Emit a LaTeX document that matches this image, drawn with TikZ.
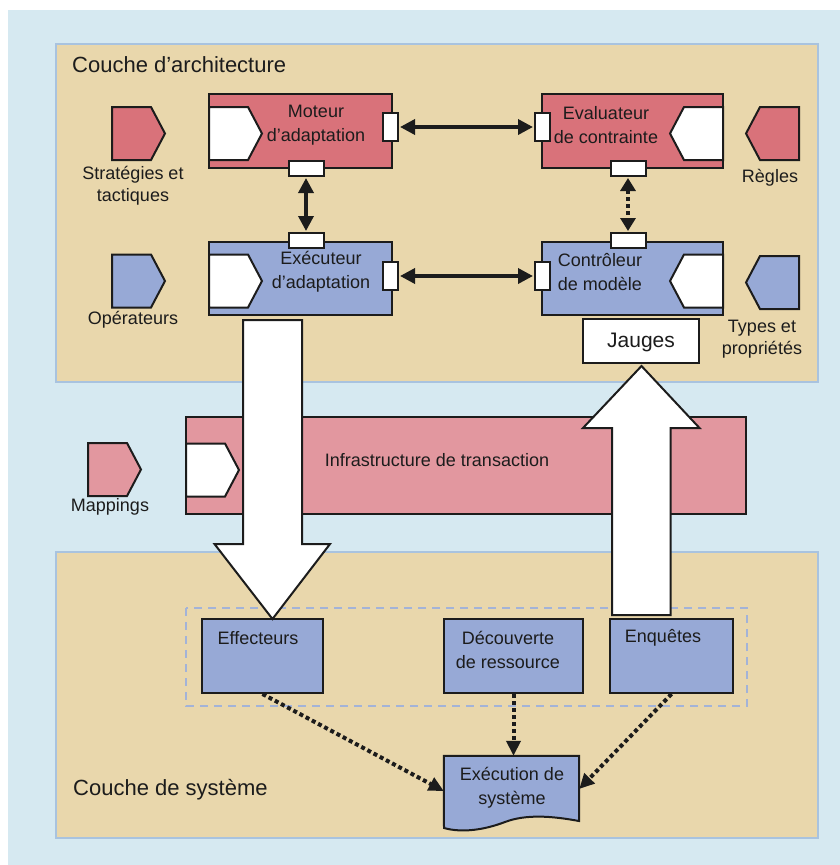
\documentclass[tikz,border=0pt]{standalone}
\usepackage{fontspec}
\setmainfont{Liberation Sans}
\usetikzlibrary{arrows.meta,calc}

\definecolor{bgblue}{HTML}{D6E9F1}
\definecolor{layertan}{HTML}{E9D7AC}
\definecolor{layerline}{HTML}{A9C3DF}
\definecolor{redbox}{HTML}{D9727A}
\definecolor{pinkbox}{HTML}{E2979F}
\definecolor{bluebox}{HTML}{97A9D6}
\definecolor{dashcol}{HTML}{A3B3D8}
\definecolor{ink}{HTML}{1C1C1C}

\tikzset{
  compo/.pic={\path[pic actions] (0,-26.5) -- (39,-26.5) -- (53,0) -- (39,26.5) -- (0,26.5) -- cycle;},
  outline/.style={draw=ink, line width=2pt},
  layer/.style={fill=layertan, draw=layerline, line width=1.6pt},
  comp/.style={outline, rectangle, inner sep=0pt},
  port/.style={outline, fill=white, rectangle, inner sep=0pt},
  hport/.style={port, minimum width=15pt, minimum height=28pt},
  vport/.style={port, minimum width=35pt, minimum height=15pt},
  lbl/.style={text=ink, inner sep=0pt, align=center, font=\fontsize{18}{24}\selectfont},
  title/.style={text=ink, inner sep=0pt, anchor=west, font=\fontsize{22}{26}\selectfont},
  solidlink/.style={draw=ink, line width=3.5pt, {Triangle[length=15pt,width=15pt]}-{Triangle[length=15pt,width=15pt]}, shorten <=1pt, shorten >=1pt},
  dotlink/.style={draw=ink, line width=4pt, dash pattern=on 4pt off 3pt, -{Triangle[length=15pt,width=14pt]}},
  dotbilink/.style={draw=ink, line width=3.5pt, dash pattern=on 4pt off 3pt, {Triangle[length=13pt,width=15pt]}-{Triangle[length=13pt,width=15pt]}, shorten <=1pt, shorten >=1pt},
  bigarrow/.style={fill=white, draw=ink, line width=2pt, line join=miter},
}

\begin{document}
\begin{tikzpicture}[x=1pt, y=-1pt]
\useasboundingbox (0,0) rectangle (840,865);
\fill[white] (0,0) rectangle (840,865);
\fill[bgblue] (8,10) rectangle (840,865);

% the two layers
\draw[layer] (56,44) rectangle (818,382);
\draw[layer] (56,552) rectangle (818,838);
\node[title] (archtitle) at (72,65) {Couche d’architecture};
\node[title] (systitle) at (73,790) {Couche de système};

% architecture components
\node[comp, fill=redbox, minimum width=183pt, minimum height=74pt] (moteur) at (300.5,131) {};
\node[comp, fill=redbox, minimum width=181pt, minimum height=74pt] (evalc) at (632.5,131) {};
\node[comp, fill=bluebox, minimum width=183pt, minimum height=73pt] (execa) at (300.5,278.5) {};
\node[comp, fill=bluebox, minimum width=181pt, minimum height=73pt] (ctrl) at (632.5,278.5) {};

\pic[outline, fill=white] at (209,133.5) {compo};
\pic[outline, fill=white, xscale=-1] at (723,133.5) {compo};
\pic[outline, fill=white] at (209,281) {compo};
\pic[outline, fill=white, xscale=-1] at (723,281) {compo};

\node[lbl] (moteurtxt) at (316,125) {Moteur\\d’adaptation};
\node[lbl] (evaltxt) at (606,125) {Evaluateur\\de contrainte};
\node[lbl] (exectxt) at (321,272) {Exécuteur\\d’adaptation};
\node[lbl] (ctrltxt) at (600,272) {Contrôleur\\de modèle};

% ports
\node[hport] (mr) at (390.5,127) {};
\node[vport] (mb) at (306,168.5) {};
\node[hport] (el) at (542.5,127) {};
\node[vport] (eb) at (628,168.5) {};
\node[vport] (xt) at (306,240.5) {};
\node[hport] (xr) at (390.5,276) {};
\node[vport] (ct) at (628,240.5) {};
\node[hport] (cl) at (542.5,276) {};

% links between components
\draw[solidlink] (mr) -- (el);
\draw[solidlink] (xr) -- (cl);
\draw[solidlink] (mb) -- (xt);
\draw[dotbilink] (eb) -- (ct);

% side elements
\pic[outline, fill=redbox] at (112,133.5) {compo};
\node[lbl, font=\fontsize{18}{22}\selectfont] (strat) at (133,186) {Stratégies et\\tactiques};
\pic[outline, fill=bluebox] at (112,281) {compo};
\node[lbl] (oper) at (133,320) {Opérateurs};
\pic[outline, fill=redbox, xscale=-1] at (799,133.5) {compo};
\node[lbl] (regles) at (770,178) {Règles};
\pic[outline, fill=bluebox, xscale=-1] at (799,282.5) {compo};
\node[lbl, font=\fontsize{18}{22}\selectfont] (types) at (762,339) {Types et\\propriétés};

% gauges
\node[comp, fill=white, minimum width=116pt, minimum height=44pt] (jauges) at (641,341) {};
\node[lbl, font=\fontsize{21}{24}\selectfont] (jaugestxt) at (641,342) {Jauges};

% transaction infrastructure
\node[comp, fill=pinkbox, minimum width=560pt, minimum height=97pt] (infra) at (466,465.5) {};
\pic[outline, fill=white] at (186,470) {compo};
\node[lbl] (infratxt) at (437,460) {Infrastructure de transaction};
\pic[outline, fill=pinkbox] at (88,469.5) {compo};
\node[lbl] (mappings) at (110,507) {Mappings};

% system layer
\draw[dashcol, line width=1.6pt, dash pattern=on 8pt off 6pt] (186,608) rectangle (747,706);
\node[comp, fill=bluebox, minimum width=121pt, minimum height=74pt] (eff) at (262.5,656) {};
\node[comp, fill=bluebox, minimum width=139pt, minimum height=74pt] (decouv) at (513.5,656) {};
\node[comp, fill=bluebox, minimum width=123pt, minimum height=74pt] (enq) at (671.5,656) {};
\node[lbl] (efftxt) at (258,638) {Effecteurs};
\node[lbl] (decouvtxt) at (508,650) {Découverte\\de ressource};
\node[lbl] (enqtxt) at (663,638) {Enquêtes};

% system execution (document shape)
\node[inner sep=0pt, minimum width=135pt, minimum height=62pt] (exec) at (511.5,787) {};
\draw[outline, fill=bluebox] (exec.north west) -- (exec.north east) -- (579,821)
  .. controls (552,816) and (526,814) .. (505,822)
  .. controls (484,830) and (462,833) .. (444,828) -- cycle;
\node[lbl] (exectxt2) at (512,788) {Exécution de\\système};

\draw[dotlink] (eff.south) -- ([yshift=-4pt]exec.west);
\draw[dotlink] (decouv.south) -- (decouv.south |- exec.north);
\draw[dotlink] (enq.south) -- ([yshift=-2pt]exec.east);

% flows between the layers
\coordinate (dtop) at (272.5,320);
\coordinate (dtip) at (272.5,619);
\draw[bigarrow] (dtop) ++(-29.5,0) -- ++(59,0) -- ++(0,224) -- ++(28,0) -- (dtip)
  -- ++(-58,-75) -- ++(28.5,0) -- cycle;
\coordinate (utip) at (641.5,366);
\coordinate (ubot) at (641.5,615);
\draw[bigarrow] (ubot) ++(-29.5,0) -- ++(0,-187) -- ++(-29,0) -- (utip)
  -- ++(58,62) -- ++(-29,0) -- ++(0,187) -- cycle;
\end{tikzpicture}
\end{document}
